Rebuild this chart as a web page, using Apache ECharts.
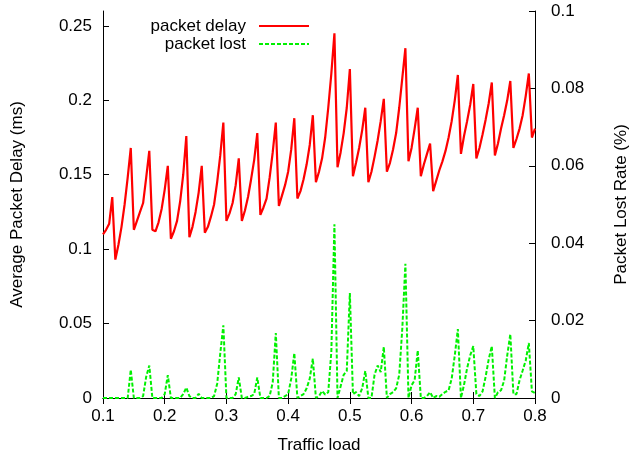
<!DOCTYPE html>
<html>
<head>
<meta charset="utf-8">
<script src="https://cdn.jsdelivr.net/npm/echarts@6/dist/echarts.min.js"></script>
<style>
  html, body { margin: 0; padding: 0; background: #fff; }
  #chart { width: 638px; height: 459px; }
</style>
</head>
<body>
<div id="chart"></div>
<script>
// traffic load (x)
var loads = [
  0.1, 0.105, 0.11, 0.115, 0.12, 0.125, 0.13, 0.135, 0.14, 0.145,
  0.15, 0.155, 0.16, 0.165, 0.17, 0.175, 0.18, 0.185, 0.19, 0.195,
  0.2, 0.205, 0.21, 0.215, 0.22, 0.225, 0.23, 0.235, 0.24, 0.245,
  0.25, 0.255, 0.26, 0.265, 0.27, 0.275, 0.28, 0.285, 0.29, 0.295,
  0.3, 0.305, 0.31, 0.315, 0.32, 0.325, 0.33, 0.335, 0.34, 0.345,
  0.35, 0.355, 0.36, 0.365, 0.37, 0.375, 0.38, 0.385, 0.39, 0.395,
  0.4, 0.405, 0.41, 0.415, 0.42, 0.425, 0.43, 0.435, 0.44, 0.445,
  0.45, 0.455, 0.46, 0.465, 0.47, 0.475, 0.48, 0.485, 0.49, 0.495,
  0.5, 0.505, 0.51, 0.515, 0.52, 0.525, 0.53, 0.535, 0.54, 0.545,
  0.55, 0.555, 0.56, 0.565, 0.57, 0.575, 0.58, 0.585, 0.59, 0.595,
  0.6, 0.605, 0.61, 0.615, 0.62, 0.625, 0.63, 0.635, 0.64, 0.645,
  0.65, 0.655, 0.66, 0.665, 0.67, 0.675, 0.68, 0.685, 0.69, 0.695,
  0.7, 0.705, 0.71, 0.715, 0.72, 0.725, 0.73, 0.735, 0.74, 0.745,
  0.75, 0.755, 0.76, 0.765, 0.77, 0.775, 0.78, 0.785, 0.79, 0.795,
  0.8
];

// average packet delay (ms), left axis
var delay = [
  0.110, 0.113, 0.117, 0.135, 0.093, 0.103, 0.115, 0.130, 0.148, 0.168,
  0.113, 0.119, 0.125, 0.131, 0.148, 0.166, 0.113, 0.112, 0.118, 0.127,
  0.140, 0.156, 0.107, 0.112, 0.119, 0.132, 0.150, 0.176, 0.108, 0.115,
  0.125, 0.138, 0.156, 0.111, 0.115, 0.122, 0.130, 0.145, 0.163, 0.185,
  0.119, 0.124, 0.131, 0.143, 0.161, 0.119, 0.126, 0.135, 0.147, 0.160,
  0.178, 0.123, 0.128, 0.134, 0.148, 0.165, 0.185, 0.129, 0.136, 0.143,
  0.152, 0.167, 0.188, 0.134, 0.139, 0.147, 0.157, 0.170, 0.190, 0.145,
  0.152, 0.161, 0.175, 0.195, 0.218, 0.245, 0.155, 0.165, 0.178, 0.195,
  0.221, 0.149, 0.158, 0.168, 0.180, 0.195, 0.145, 0.152, 0.162, 0.173,
  0.186, 0.201, 0.152, 0.158, 0.167, 0.178, 0.195, 0.215, 0.235, 0.159,
  0.168, 0.181, 0.195, 0.149, 0.157, 0.164, 0.171, 0.139, 0.146, 0.153,
  0.159, 0.166, 0.175, 0.186, 0.200, 0.217, 0.164, 0.176, 0.186, 0.197,
  0.211, 0.161, 0.168, 0.177, 0.187, 0.198, 0.212, 0.163, 0.171, 0.181,
  0.190, 0.200, 0.213, 0.168, 0.174, 0.181, 0.190, 0.203, 0.218, 0.175,
  0.181
];

// packet lost rate (%), right axis
var lost = [
  0, 0, 0, 0, 0, 0, 0, 0, 0, 0.0073,
  0, 0, 0, 0.0005, 0.0055, 0.0084, 0, 0, 0, 0,
  0.001, 0.0059, 0, 0, 0, 0, 0.001, 0.0027, 0.0005, 0,
  0, 0.0011, 0, 0, 0, 0, 0.0005, 0.0037, 0.0115, 0.0188,
  0, 0, 0, 0.001, 0.0053, 0, 0, 0.0003, 0.0005, 0.001,
  0.0053, 0, 0, 0, 0.0005, 0.004, 0.0168, 0, 0, 0.0005,
  0.001, 0.005, 0.0116, 0, 0.0005, 0.001, 0.0025, 0.005, 0.0102, 0,
  0.0005, 0.0018, 0.0009, 0.0015, 0.012, 0.0449, 0, 0.003, 0.006, 0.007,
  0.0271, 0.001, 0.0015, 0.0005, 0.0025, 0.007, 0, 0, 0.006, 0.0084,
  0.0067, 0.0132, 0, 0.001, 0.0015, 0.0025, 0.006, 0.018, 0.0347, 0,
  0.0033, 0.0046, 0.0123, 0, 0, 0.0005, 0.0015, 0, 0.0005, 0.0003,
  0.001, 0.0016, 0.002, 0.005, 0.011, 0.0178, 0, 0.0034, 0.0077, 0.011,
  0.0134, 0.001, 0.0005, 0.0017, 0.0055, 0.01, 0.0134, 0, 0.0015, 0.002,
  0.0045, 0.011, 0.0165, 0.001, 0.001, 0.0046, 0.0071, 0.0097, 0.0142, 0.0017,
  0.0013
];

var font = "'Liberation Sans', Arial, sans-serif";
var fs = 17;

var chart = echarts.init(document.getElementById('chart'), null, { renderer: 'canvas' });

var axisLine = { show: true, lineStyle: { color: '#000', width: 1 } };
var axisTick = { show: true, inside: true, length: 6, lineStyle: { color: '#000', width: 1 } };
var label = { color: '#000', fontSize: fs, fontFamily: font };

var option = {
  backgroundColor: '#fff',
  animation: false,
  grid: { left: 103, right: 97, top: 11, bottom: 61 },
  legend: {
    orient: 'vertical',
    align: 'right',
    right: 323,
    top: 12,
    itemWidth: 50,
    itemHeight: 10,
    itemGap: 0,
    itemStyle: { opacity: 0 },
    textStyle: { color: '#000', fontSize: fs, fontFamily: font, lineHeight: 18, padding: [0, 8, 0, 0] },
    data: ['packet delay', 'packet lost']
  },
  xAxis: [{
    type: 'value',
    min: 0.1, max: 0.8, interval: 0.1,
    name: 'Traffic load',
    nameLocation: 'middle',
    nameGap: 39,
    nameTextStyle: { color: '#000', fontSize: fs, fontFamily: font },
    axisLine: axisLine,
    axisTick: axisTick,
    axisLabel: Object.assign({ margin: 10 }, label),
    splitLine: { show: false }
  }, {
    type: 'value',
    position: 'top',
    min: 0.1, max: 0.8, interval: 0.1,
    axisLine: axisLine,
    axisTick: axisTick,
    axisLabel: { show: false },
    splitLine: { show: false }
  }],
  yAxis: [{
    type: 'value',
    min: 0, max: 0.26, interval: 0.05,
    name: 'Average Packet Delay (ms)',
    nameLocation: 'middle',
    nameRotate: 90,
    nameGap: 77,
    nameTextStyle: { color: '#000', fontSize: fs, fontFamily: font },
    axisLine: axisLine,
    axisTick: axisTick,
    axisLabel: Object.assign({ margin: 11, showMaxLabel: false }, label),
    splitLine: { show: false }
  }, {
    type: 'value',
    position: 'right',
    min: 0, max: 0.1, interval: 0.02,
    name: 'Packet Lost Rate (%)',
    nameLocation: 'middle',
    nameRotate: 90,
    nameGap: 78,
    nameTextStyle: { color: '#000', fontSize: fs, fontFamily: font },
    axisLine: axisLine,
    axisTick: axisTick,
    axisLabel: Object.assign({ margin: 16 }, label),
    splitLine: { show: false }
  }],
  series: [{
    name: 'packet delay',
    type: 'line',
    yAxisIndex: 0,
    symbol: 'none',
    lineStyle: { color: '#ff0000', width: 2.2 },
    itemStyle: { color: '#ff0000' },
    data: loads.map(function (x, i) { return [x, delay[i]]; })
  }, {
    name: 'packet lost',
    type: 'line',
    yAxisIndex: 1,
    symbol: 'none',
    lineStyle: { color: '#00f000', width: 2, type: [4, 2] },
    itemStyle: { color: '#00f000' },
    data: loads.map(function (x, i) { return [x, lost[i]]; })
  }]
};

chart.setOption(option);
</script>
</body>
</html>
